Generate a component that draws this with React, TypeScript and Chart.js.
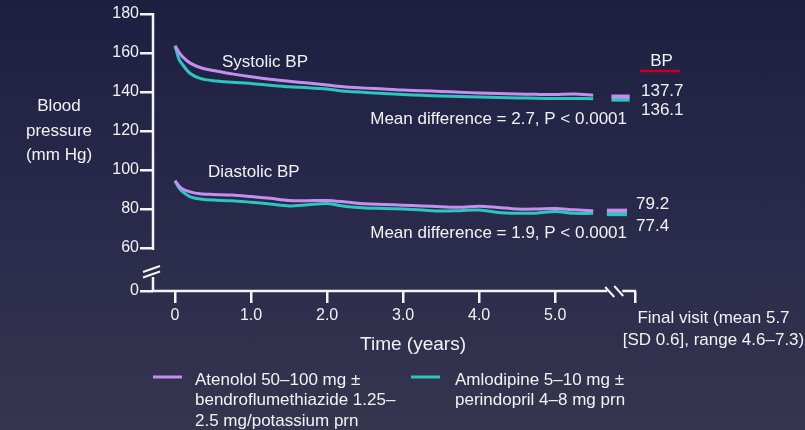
import React, { useEffect, useRef } from 'react';
import { Chart, registerables } from 'chart.js';

Chart.register(...registerables);

// ---------- data ----------
const YEARS = [0, 0.05, 0.1, 0.2, 0.33, 0.5, 0.75, 1, 1.25, 1.5, 1.75, 2, 2.25, 2.5, 2.75, 3, 3.25, 3.5, 3.75, 4, 4.25, 4.5, 4.75, 5, 5.25, 5.5];
const SYS_ATENOLOL = [163.7, 160.5, 158, 154.8, 152.6, 151, 149.3, 147.8, 146.5, 145.5, 144.6, 143.6, 142.6, 142, 141.6, 141, 140.7, 140.3, 139.9, 139.5, 139.2, 139, 138.8, 138.7, 139, 138.3];
const SYS_AMLODIPINE = [163.7, 157, 154, 149.5, 147, 145.8, 145, 144.4, 143.5, 142.7, 142.2, 141.5, 140.4, 139.8, 139.2, 138.7, 138.3, 138, 137.7, 137.4, 137.2, 137, 136.8, 136.7, 136.7, 136.6];
const DIA_ATENOLOL = [94.5, 92, 90.3, 88.8, 87.8, 87.5, 87.2, 86.4, 85.5, 84.4, 84.3, 84.4, 83.6, 82.7, 82.4, 82, 81.6, 81.2, 80.9, 81.5, 80.8, 80, 80, 80.3, 79.6, 79.2];
const DIA_AMLODIPINE = [94.5, 91, 88.8, 86.3, 85.2, 84.6, 84.3, 83.5, 82.6, 81.6, 82.2, 82.8, 81.3, 80.6, 80.3, 80, 79.5, 79, 79.2, 79.5, 78.3, 77.9, 77.9, 78.8, 77.8, 77.8];

const FINAL_SYS = [137.7, 136.1];
const FINAL_DIA = [79.2, 77.4];
const FINAL_SYS_LABELS = ['137.7', '136.1'];
const FINAL_DIA_LABELS = ['79.2', '77.4'];
const FINAL_SYS_SPAN = [5.74, 5.98];
const FINAL_DIA_SPAN = [5.68, 5.945];

const X_TICKS = [0, 1, 2, 3, 4, 5];
const X_TICK_LABELS = ['0', '1.0', '2.0', '3.0', '4.0', '5.0'];
const X_MIN = -0.29;
const X_MAX = 6.05; // "final visit" position
const Y_TICKS = [60, 80, 100, 120, 140, 160, 180];
const Y_ZERO_LABEL = '0';
const Y_FLOOR = 38; // broken axis: this value is drawn as "0"
const Y_BREAK_TOP = 59;
const Y_BREAK_BOTTOM = 45.2;
const X_BREAK = 5.79;

const SERIES_NAMES = ['Atenolol 50–100 mg ±', 'Amlodipine 5–10 mg ±'];
const LEGEND_LINES = [
  ['Atenolol 50–100 mg ±', 'bendroflumethiazide 1.25–', '2.5 mg/potassium prn'],
  ['Amlodipine 5–10 mg ±', 'perindopril 4–8 mg prn'],
];

// ---------- style ----------
const PURPLE = '#c58ff0';
const TEAL = '#2bc6bf';
const TEXT = '#f2f2f4';
const AXIS = '#f4f4f4';
const RED = '#c8001e';
const FONT = '"Liberation Sans", Arial, Helvetica, sans-serif';

const line = (label: string, data: number[], color: string) => ({
  label,
  data: data.map((v, i) => ({ x: YEARS[i], y: v })),
  borderColor: color,
  backgroundColor: color,
  borderWidth: 3,
  pointRadius: 0,
  tension: 0.3,
  fill: false,
});

const marker = (span: number[], v: number, color: string) => ({
  label: '',
  data: span.map((x) => ({ x, y: v })),
  borderColor: color,
  backgroundColor: color,
  borderWidth: 4,
  pointRadius: 0,
  fill: false,
});

const overlay = {
  id: 'overlay',
  afterDraw(chart: any) {
    const { ctx } = chart;
    const xs = chart.scales.x;
    const ys = chart.scales.y;
    const ax = xs.left;
    const ay = ys.bottom;
    ctx.save();
    ctx.strokeStyle = AXIS;
    ctx.lineWidth = 2.5;
    ctx.lineCap = 'butt';
    // y axis with break
    const yTop = ys.getPixelForValue(180) - 1;
    const yb1 = ys.getPixelForValue(Y_BREAK_TOP);
    const yb2 = ys.getPixelForValue(Y_BREAK_BOTTOM);
    ctx.beginPath();
    ctx.moveTo(ax, yTop);
    ctx.lineTo(ax, yb1);
    ctx.moveTo(ax, yb2);
    ctx.lineTo(ax, ay + 1);
    ctx.stroke();
    ctx.lineWidth = 2;
    ctx.beginPath();
    ctx.moveTo(ax - 10, yb2 - 5);
    ctx.lineTo(ax + 7, yb2 - 11);
    ctx.moveTo(ax - 10, yb2 + 0.5);
    ctx.lineTo(ax + 7, yb2 - 5.5);
    ctx.stroke();
    // x axis with break
    const xb = xs.getPixelForValue(X_BREAK);
    const xEnd = xs.getPixelForValue(X_MAX);
    ctx.lineWidth = 2.5;
    ctx.beginPath();
    ctx.moveTo(ax - 1, ay);
    ctx.lineTo(xb - 8, ay);
    ctx.moveTo(xb + 7, ay);
    ctx.lineTo(xEnd + 1, ay);
    ctx.stroke();
    ctx.lineWidth = 2;
    ctx.beginPath();
    ctx.moveTo(xb - 10, ay - 4);
    ctx.lineTo(xb - 1, ay + 6);
    ctx.moveTo(xb - 1, ay - 5);
    ctx.lineTo(xb + 8, ay + 5);
    ctx.stroke();

    // texts
    ctx.fillStyle = TEXT;
    ctx.textBaseline = 'middle';
    const txt = (s: string, x: number, y: number, size = 17, align: CanvasTextAlign = 'left') => {
      ctx.font = `${size}px ${FONT}`;
      ctx.textAlign = align;
      ctx.fillText(s, x, y);
    };
    txt('Systolic BP', 222, 62);
    txt('Diastolic BP', 208, 172);
    txt('Mean difference = 2.7, P < 0.0001', 627, 119.5, 17, 'right');
    txt('Mean difference = 1.9, P < 0.0001', 627, 233, 17, 'right');
    txt(FINAL_SYS_LABELS[0], 641, 91);
    txt(FINAL_SYS_LABELS[1], 641, 110);
    txt(FINAL_DIA_LABELS[0], 636, 204.5);
    txt(FINAL_DIA_LABELS[1], 636, 226);
    txt('BP', 661.5, 61, 17, 'center');
    ctx.strokeStyle = RED;
    ctx.lineWidth = 2.5;
    ctx.beginPath();
    ctx.moveTo(640, 71);
    ctx.lineTo(680, 71);
    ctx.stroke();
    // y axis title
    txt('Blood', 59, 106, 17, 'center');
    txt('pressure', 59, 131, 17, 'center');
    txt('(mm Hg)', 59, 155, 17, 'center');
    // x axis title + final visit
    txt('Time (years)', 413, 345, 19, 'center');
    txt('Final visit (mean 5.7', 713.5, 318, 17, 'center');
    txt('[SD 0.6], range 4.6–7.3)', 713.5, 340, 17, 'center');
    // legend
    const sw = [
      { x: 153, tx: 195, color: PURPLE, lines: LEGEND_LINES[0] },
      { x: 411, tx: 455, color: TEAL, lines: LEGEND_LINES[1] },
    ];
    sw.forEach((s) => {
      ctx.strokeStyle = s.color;
      ctx.lineWidth = 3;
      ctx.beginPath();
      ctx.moveTo(s.x, 377);
      ctx.lineTo(s.x + 29, 377);
      ctx.stroke();
      s.lines.forEach((l, i) => txt(l, s.tx, 380 + i * 20.5));
    });
    ctx.restore();
  },
};

export default function App() {
  const ref = useRef<HTMLCanvasElement | null>(null);
  useEffect(() => {
    if (!ref.current) return;
    const chart = new Chart(ref.current, {
      type: 'line',
      data: {
        datasets: [
          line(SERIES_NAMES[0] + ' systolic', SYS_ATENOLOL, PURPLE),
          line(SERIES_NAMES[1] + ' systolic', SYS_AMLODIPINE, TEAL),
          line(SERIES_NAMES[0] + ' diastolic', DIA_ATENOLOL, PURPLE),
          line(SERIES_NAMES[1] + ' diastolic', DIA_AMLODIPINE, TEAL),
          marker(FINAL_SYS_SPAN, FINAL_SYS[0], PURPLE),
          marker(FINAL_SYS_SPAN, FINAL_SYS[1], TEAL),
          marker(FINAL_DIA_SPAN, FINAL_DIA[0], PURPLE),
          marker(FINAL_DIA_SPAN, FINAL_DIA[1], TEAL),
        ] as any,
      },
      options: {
        animation: false,
        responsive: true,
        maintainAspectRatio: false,
        layout: { padding: { left: 0, right: 170, top: 14, bottom: 0 } },
        plugins: { legend: { display: false }, tooltip: { enabled: false } },
        scales: {
          x: {
            type: 'linear',
            min: X_MIN,
            max: X_MAX,
            afterBuildTicks: (s: any) => {
              s.ticks = [...X_TICKS, X_MAX].map((v) => ({ value: v }));
            },
            afterFit: (s: any) => {
              s.height = 139;
            },
            ticks: {
              color: TEXT,
              font: { size: 16, family: FONT },
              padding: 3,
              maxRotation: 0,
              autoSkip: false,
              callback: (_v: any, i: number) => (i < X_TICK_LABELS.length ? X_TICK_LABELS[i] : ''),
            },
            grid: { drawOnChartArea: false, drawTicks: true, tickLength: 12, color: AXIS, lineWidth: 2.5 },
            border: { display: false },
          },
          y: {
            type: 'linear',
            min: Y_FLOOR,
            max: 180,
            afterBuildTicks: (s: any) => {
              s.ticks = [Y_FLOOR, ...Y_TICKS].map((v) => ({ value: v }));
            },
            afterFit: (s: any) => {
              s.width = 153;
            },
            ticks: {
              color: TEXT,
              font: { size: 16, family: FONT },
              padding: 1,
              autoSkip: false,
              callback: (v: any) => (v === Y_FLOOR ? Y_ZERO_LABEL : String(v)),
            },
            grid: { drawOnChartArea: false, drawTicks: true, tickLength: 13, color: AXIS, lineWidth: 2.5 },
            border: { display: false },
          },
        },
      },
      plugins: [overlay],
    } as any);
    return () => chart.destroy();
  }, []);
  return (
    <div
      style={{
        position: 'fixed',
        left: 0,
        top: 0,
        width: 805,
        height: 430,
        background: 'linear-gradient(180deg, #1d1f41 0%, #28294a 45%, #35354f 100%)',
      }}
    >
      <canvas ref={ref} />
    </div>
  );
}
